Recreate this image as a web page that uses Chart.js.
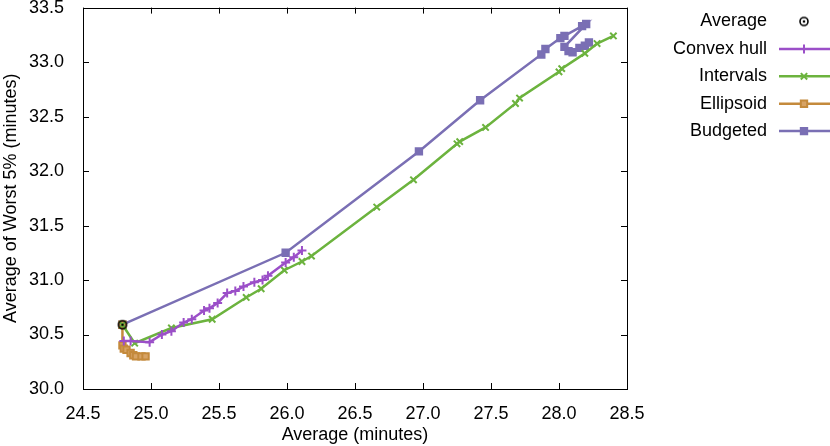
<!DOCTYPE html>
<html>
<head>
<meta charset="utf-8">
<script src="https://cdn.jsdelivr.net/npm/chart.js@4"></script>
<style>
  body { margin: 0; background: #fff; }
</style>
</head>
<body>
<canvas id="grafico" width="830" height="446"></canvas>
<script>
// series values
var mediaX = [24.79];
var mediaY = [30.59];

var hullX = [24.80, 24.85, 24.99, 25.08, 25.15, 25.24, 25.30, 25.39, 25.43, 25.49, 25.56, 25.62, 25.68, 25.76, 25.82, 25.86, 25.99, 26.05, 26.11];
var hullY = [30.44, 30.44, 30.43, 30.50, 30.53, 30.61, 30.64, 30.72, 30.74, 30.79, 30.88, 30.90, 30.94, 30.98, 31.00, 31.04, 31.16, 31.21, 31.27];

var intervX = [24.79, 24.88, 25.15, 25.45, 25.70, 25.81, 25.98, 26.11, 26.18, 26.66, 26.93, 27.25, 27.27, 27.46, 27.68, 27.71, 28.00, 28.02, 28.19, 28.28, 28.40];
var intervY = [30.59, 30.42, 30.56, 30.64, 30.84, 30.92, 31.09, 31.17, 31.22, 31.67, 31.92, 32.25, 32.27, 32.40, 32.62, 32.67, 32.91, 32.94, 33.08, 33.17, 33.24];

var elipX = [24.79, 24.79, 24.80, 24.82, 24.85, 24.87, 24.89, 24.93, 24.96];
var elipY = [30.59, 30.40, 30.37, 30.36, 30.33, 30.31, 30.30, 30.30, 30.30];

var orcX = [24.79, 25.99, 26.97, 27.42, 27.87, 27.90, 28.01, 28.04, 28.17, 28.20, 28.04, 28.07, 28.10, 28.15, 28.19, 28.22];
var orcY = [30.59, 31.25, 32.18, 32.65, 33.07, 33.12, 33.22, 33.24, 33.33, 33.35, 33.14, 33.10, 33.09, 33.13, 33.15, 33.18];

var nomes = ['Average', 'Convex hull', 'Intervals', 'Ellipsoid', 'Budgeted'];
var cores = ['#000000', '#9b4fc8', '#6cb33e', '#c48a3c', '#7a6fb4'];

var xTicks = [24.5, 25.0, 25.5, 26.0, 26.5, 27.0, 27.5, 28.0, 28.5];
var yTicks = [30.0, 30.5, 31.0, 31.5, 32.0, 32.5, 33.0, 33.5];

function juntar(xs, ys) {
  return xs.map(function (x, i) { return { x: x, y: ys[i] }; });
}

// marker for the average: circle with a dot in the middle
var marcaMedia = document.createElement('canvas');
marcaMedia.width = 12; marcaMedia.height = 12;
(function () {
  var c = marcaMedia.getContext('2d');
  c.strokeStyle = '#000'; c.lineWidth = 1.6;
  c.beginPath(); c.arc(6, 6, 4, 0, Math.PI * 2); c.stroke();
  c.fillStyle = '#000';
  c.beginPath(); c.arc(6, 6, 1.3, 0, Math.PI * 2); c.fill();
})();

var fonte = "'Liberation Sans', Arial, sans-serif";
var tamanho = 18;

// frame with inward ticks on all four sides, like gnuplot
var moldura = {
  id: 'moldura',
  afterDatasetsDraw: function (chart) {
    var ctx = chart.ctx, a = chart.chartArea;
    var sx = chart.scales.x, sy = chart.scales.y;
    ctx.save();
    ctx.strokeStyle = '#000';
    ctx.lineWidth = 1;
    ctx.strokeRect(Math.round(a.left) + 0.5, Math.round(a.top) + 0.5, Math.round(a.right - a.left), Math.round(a.bottom - a.top));
    ctx.beginPath();
    xTicks.forEach(function (v) {
      var p = Math.round(sx.getPixelForValue(v)) + 0.5;
      ctx.moveTo(p, a.bottom); ctx.lineTo(p, a.bottom - 6);
      ctx.moveTo(p, a.top); ctx.lineTo(p, a.top + 6);
    });
    yTicks.forEach(function (v) {
      var p = Math.round(sy.getPixelForValue(v)) + 0.5;
      ctx.moveTo(a.left, p); ctx.lineTo(a.left + 6, p);
      ctx.moveTo(a.right, p); ctx.lineTo(a.right - 6, p);
    });
    ctx.stroke();
    ctx.restore();
  }
};

// legend on the right: text first, then the sample
var legenda = {
  id: 'legenda',
  afterDraw: function (chart) {
    var ctx = chart.ctx;
    ctx.save();
    ctx.font = tamanho + 'px ' + fonte;
    ctx.textAlign = 'right';
    ctx.textBaseline = 'middle';
    chart.data.datasets.forEach(function (ds, i) {
      var y = 21.5 + i * 27.4;
      ctx.fillStyle = '#000';
      ctx.fillText(ds.label, 767, y);
      if (ds.showLine) {
        ctx.strokeStyle = ds.borderColor;
        ctx.lineWidth = 2.5;
        ctx.beginPath(); ctx.moveTo(779, y); ctx.lineTo(830, y); ctx.stroke();
      }
      ctx.strokeStyle = ds.pointBorderColor || ds.borderColor;
      ctx.fillStyle = ds.pointBackgroundColor;
      ctx.lineWidth = ds.pointBorderWidth;
      Chart.helpers.drawPoint(ctx, {
        pointStyle: ds.pointStyle,
        radius: ds.pointRadius,
        borderWidth: ds.pointBorderWidth
      }, 804, y);
    });
    ctx.restore();
  }
};

function serie(i, xs, ys, estilo, raio, fundo) {
  return {
    label: nomes[i],
    data: juntar(xs, ys),
    showLine: true,
    borderColor: cores[i],
    borderWidth: 2.5,
    pointStyle: estilo,
    pointRadius: raio,
    pointBorderWidth: 2,
    pointBorderColor: cores[i],
    pointBackgroundColor: fundo,
    tension: 0
  };
}

new Chart(document.getElementById('grafico'), {
  type: 'scatter',
  data: {
    datasets: [
      {
        label: nomes[0],
        data: juntar(mediaX, mediaY),
        showLine: false,
        borderColor: '#000',
        pointStyle: marcaMedia,
        pointRadius: 6,
        pointBorderWidth: 1.6,
        pointBorderColor: '#000',
        pointBackgroundColor: '#000'
      },
      serie(1, hullX, hullY, 'cross', 4.5, cores[1]),
      serie(2, intervX, intervY, 'crossRot', 4.5, cores[2]),
      serie(3, elipX, elipY, 'rect', 4.5, '#d7a365'),
      serie(4, orcX, orcY, 'rect', 4.5, cores[4])
    ]
  },
  plugins: [moldura, legenda],
  options: {
    responsive: false,
    animation: false,
    layout: { padding: { left: 0, right: 203, top: 7, bottom: 0 } },
    plugins: {
      legend: { display: false },
      tooltip: { enabled: false }
    },
    scales: {
      x: {
        type: 'linear',
        min: 24.5,
        max: 28.5,
        afterFit: function (s) { s.height = 57; s.paddingLeft = 0; s.paddingRight = 0; },
        afterBuildTicks: function (s) { s.ticks = xTicks.map(function (v) { return { value: v }; }); },
        grid: { display: false },
        border: { display: false },
        ticks: {
          color: '#000',
          padding: 6,
          maxRotation: 0,
          font: { family: fonte, size: tamanho },
          callback: function (v) { return Number(v).toFixed(1); }
        },
        title: {
          display: true,
          text: 'Average (minutes)',
          color: '#000',
          padding: { top: 0, bottom: 0 },
          font: { family: fonte, size: tamanho }
        }
      },
      y: {
        type: 'linear',
        min: 30,
        max: 33.5,
        afterFit: function (s) { s.width = 83; s.paddingTop = 0; s.paddingBottom = 0; },
        afterBuildTicks: function (s) { s.ticks = yTicks.map(function (v) { return { value: v }; }); },
        grid: { display: false },
        border: { display: false },
        ticks: {
          color: '#000',
          padding: 11,
          font: { family: fonte, size: tamanho },
          callback: function (v) { return Number(v).toFixed(1); }
        },
        title: {
          display: true,
          text: 'Average of Worst 5% (minutes)',
          color: '#000',
          padding: { top: 0, bottom: 0 },
          font: { family: fonte, size: tamanho }
        }
      }
    }
  }
});
</script>
</body>
</html>
